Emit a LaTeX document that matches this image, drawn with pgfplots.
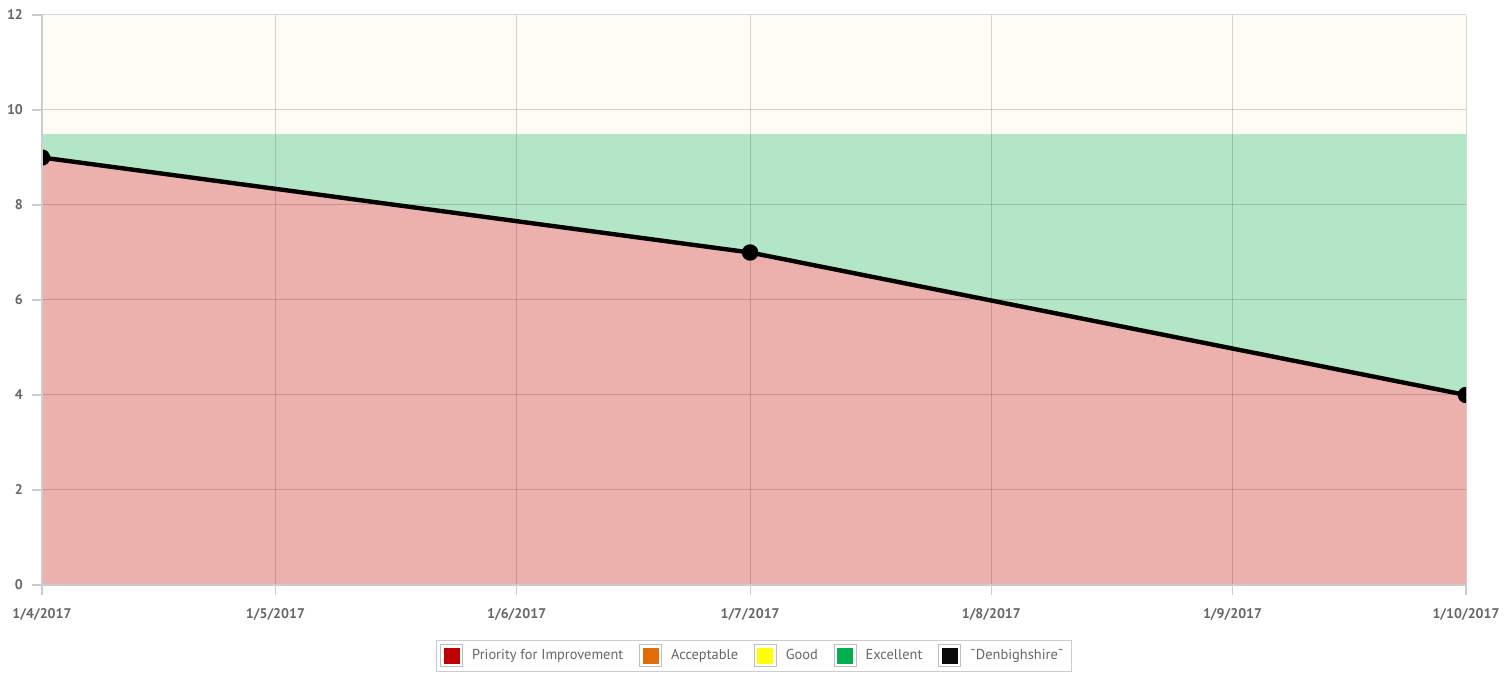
\documentclass[border=0pt]{standalone}
\usepackage{pgfplots}
\pgfplotsset{compat=1.18}
\usepackage{fontspec}
\setmainfont{PT Sans}
\definecolor{cream}{HTML}{FFFCF4}
\definecolor{exgreen}{HTML}{B3E6C6}
\definecolor{redfill}{HTML}{ECB0AD}
\definecolor{c1}{HTML}{C00000}
\definecolor{c2}{HTML}{E36C0A}
\definecolor{c3}{HTML}{FFFF00}
\definecolor{c4}{HTML}{00B050}
\definecolor{c5}{HTML}{0A0A0A}
\definecolor{lbl}{HTML}{666666}
\definecolor{axc}{HTML}{CCCCCC}
\begin{document}
\begin{tikzpicture}
\useasboundingbox (-21pt,-44.5pt) rectangle (731.5pt,292.5pt);
\begin{axis}[
  at={(0,0)}, anchor=south west,
  scale only axis, width=712pt, height=285pt,
  xmin=0, xmax=183, ymin=0, ymax=12,
  xtick={0,30,61,91,122,153,183},
  xticklabels={1/4/2017,1/5/2017,1/6/2017,1/7/2017,1/8/2017,1/9/2017,1/10/2017},
  ytick={0,2,4,6,8,10,12},
  axis on top,
  clip marker paths=true,
  grid=major,
  grid style={black, opacity=0.16, line width=0.5pt},
  axis x line*=bottom, axis y line*=left,
  axis line style={axc, line width=0.8pt},
  x axis line style={-}, y axis line style={-},
  tick style={axc, line width=0.6pt},
  tick align=outside,
  major tick length=5pt,
  ticklabel style={font=\fontsize{7}{8}\selectfont\bfseries, text=lbl},
  /pgf/number format/assume math mode=true,
  xticklabel style={yshift=-3pt},
  yticklabel style={xshift=-1pt},
  legend style={at={(0.5,-0.096)}, anchor=north, draw=axc, line width=0.6pt,
    font=\fontsize{7.2}{8}\selectfont, text=lbl, legend columns=5,
    inner sep=2pt, column sep=2.5pt,
    /tikz/every even column/.append style={column sep=6pt}},
  legend cell align=left,
  legend image code/.code={
    \draw[draw=black!25, fill=white, line width=0.4pt] (-1pt,-5.5pt) rectangle (10pt,5.5pt);
    \fill (0.8pt,-3.7pt) rectangle (8.2pt,3.7pt);
  },
]
\addplot[fill=cream, draw=none, forget plot] coordinates {(0,12) (183,12)} \closedcycle;
\addplot[fill=exgreen, draw=none, forget plot] coordinates {(0,9.5) (183,9.5)} \closedcycle;
\addplot[fill=redfill, draw=none, forget plot] coordinates {(0,9) (91,7) (183,4)} \closedcycle;
\addplot[black, line width=2.2pt, mark=*, mark size=3pt, forget plot] coordinates {(0,9) (91,7) (183,4)};
\addlegendimage{fill=c1, draw=c1}
\addlegendentry{Priority for Improvement}
\addlegendimage{fill=c2, draw=c2}
\addlegendentry{Acceptable}
\addlegendimage{fill=c3, draw=c3}
\addlegendentry{Good}
\addlegendimage{fill=c4, draw=c4}
\addlegendentry{Excellent}
\addlegendimage{fill=c5, draw=c5}
\addlegendentry{˜Denbighshire˜}
\end{axis}
\end{tikzpicture}
\end{document}
